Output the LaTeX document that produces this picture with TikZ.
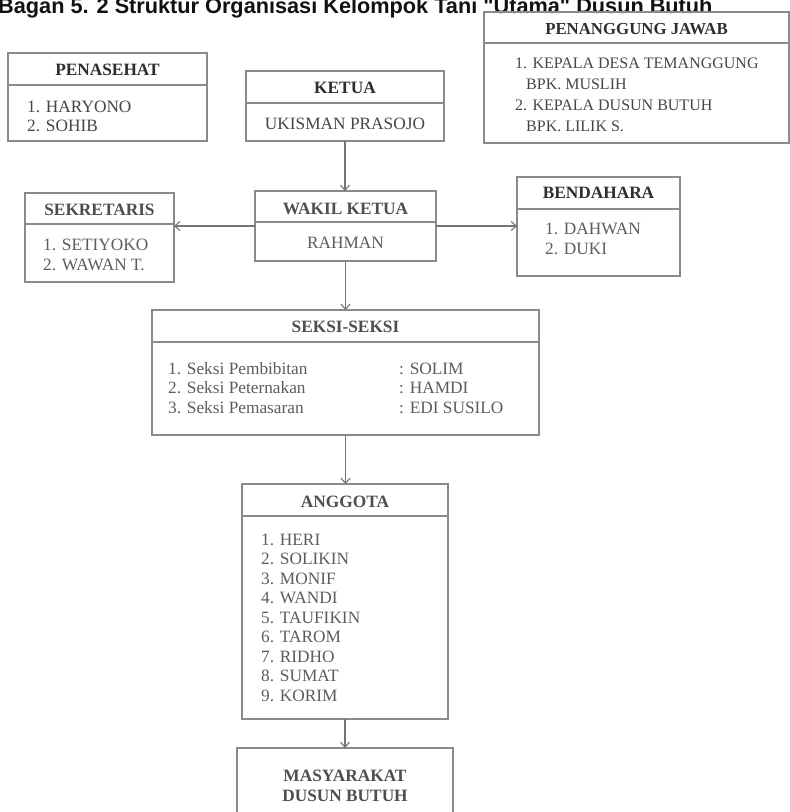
\documentclass[tikz,border=0pt]{standalone}
\usepackage{fontspec}
\setmainfont{Liberation Serif}
\newfontfamily\titlefont{Liberation Sans}
\usetikzlibrary{arrows.meta}
\definecolor{boxline}{HTML}{8A8A8A}
\definecolor{headA}{HTML}{2E2E2E}
\definecolor{headB}{HTML}{4E4E4E}
\definecolor{itemA}{HTML}{454545}
\definecolor{itemB}{HTML}{5C5C5C}
\definecolor{titlec}{HTML}{111111}
\begin{document}
\begin{tikzpicture}[x=1pt,y=-1pt,
  box/.style={draw=boxline, line width=1.1pt, inner sep=0pt, outer sep=0pt, anchor=north west},
  divline/.style={draw=boxline, line width=1.1pt},
  conn/.style={draw=boxline!85!black, line width=1.1pt, -{Straight Barb[length=5pt,width=9pt]}},
  headtxt/.style={inner sep=0pt, anchor=center, font=\bfseries\fontsize{17.3}{19.5}\selectfont, text=#1},
  headtxt/.default=headB,
  itemtxt/.style={inner sep=0pt, anchor=base west, font=\fontsize{17.3}{19.5}\selectfont, text=#1},
  itemtxt/.default=itemB,
  smallitem/.style={inner sep=0pt, anchor=base west, font=\fontsize{16}{18}\selectfont, text=itemA}
]
\useasboundingbox (0,0) rectangle (790,812);

% title
\node[anchor=base west, inner sep=0pt, text=titlec, font=\titlefont\bfseries\fontsize{21.7}{24}\selectfont] (title) at (-2,13) {Bagan 5. 2 Struktur Organisasi Kelompok Tani "Utama" Dusun Butuh};

% PENASEHAT
\node[box, minimum width=199pt, minimum height=88pt] (pen) at (8,53) {};
\draw[divline] (pen.west |- 0,85) -- (pen.east |- 0,85);
\node[headtxt=headA] (penT) at (107.5,70) {PENASEHAT};
\node[itemtxt=itemA] (pen1) at (27,112) {1. HARYONO};
\node[itemtxt=itemA] (pen2) at (27,131) {2. SOHIB};

% KETUA
\node[box, minimum width=198pt, minimum height=70pt] (ket) at (246,71) {};
\draw[divline] (ket.west |- 0,103) -- (ket.east |- 0,103);
\node[headtxt=headA] (ketT) at (345,88) {KETUA};
\node[itemtxt=itemA, anchor=base] (ket1) at (345,129) {UKISMAN PRASOJO};

% PENANGGUNG JAWAB
\node[box, minimum width=305pt, minimum height=131pt] (pj) at (484,12) {};
\draw[divline] (pj.west |- 0,43) -- (pj.east |- 0,43);
\node[headtxt=headA, font=\bfseries\fontsize{16.8}{19}\selectfont] (pjT) at (636.5,29) {PENANGGUNG JAWAB};
\node[smallitem] (pj1) at (515,68) {1. KEPALA DESA TEMANGGUNG};
\node[smallitem] (pj2) at (526,89) {BPK. MUSLIH};
\node[smallitem] (pj3) at (515,110) {2. KEPALA DUSUN BUTUH};
\node[smallitem] (pj4) at (526,131) {BPK. LILIK S.};

% SEKRETARIS
\node[box, minimum width=149pt, minimum height=89pt] (sek) at (25,193) {};
\draw[divline] (sek.west |- 0,224) -- (sek.east |- 0,224);
\node[headtxt] (sekT) at (99.5,209.5) {SEKRETARIS};
\node[itemtxt] (sek1) at (43,250) {1. SETIYOKO};
\node[itemtxt] (sek2) at (43,270) {2. WAWAN T.};

% WAKIL KETUA
\node[box, minimum width=181pt, minimum height=70pt] (wak) at (255,191) {};
\draw[divline] (wak.west |- 0,222) -- (wak.east |- 0,222);
\node[headtxt] (wakT) at (345.5,208.5) {WAKIL KETUA};
\node[itemtxt, anchor=base] (wak1) at (345.5,248) {RAHMAN};

% BENDAHARA
\node[box, minimum width=163pt, minimum height=99pt] (ben) at (517,177) {};
\draw[divline] (ben.west |- 0,209) -- (ben.east |- 0,209);
\node[headtxt=headA] (benT) at (598.5,193) {BENDAHARA};
\node[itemtxt] (ben1) at (545,234) {1. DAHWAN};
\node[itemtxt] (ben2) at (545,254) {2. DUKI};

% SEKSI-SEKSI
\node[box, minimum width=387pt, minimum height=125pt] (sks) at (152,310) {};
\draw[divline] (sks.west |- 0,342) -- (sks.east |- 0,342);
\node[headtxt] (sksT) at (345.5,327) {SEKSI-SEKSI};
\node[itemtxt] (sks1) at (168,374) {1. Seksi Pembibitan};
\node[itemtxt] (sks2) at (168,393.5) {2. Seksi Peternakan};
\node[itemtxt] (sks3) at (168,413) {3. Seksi Pemasaran};
\node[itemtxt] (sks1b) at (399,374) {: SOLIM};
\node[itemtxt] (sks2b) at (399,393.5) {: HAMDI};
\node[itemtxt] (sks3b) at (399,413) {: EDI SUSILO};

% ANGGOTA
\node[box, minimum width=206pt, minimum height=235pt] (ang) at (242,484) {};
\draw[divline] (ang.west |- 0,516) -- (ang.east |- 0,516);
\node[headtxt] (angT) at (345,502) {ANGGOTA};
\node[itemtxt] (a1) at (261,545) {1. HERI};
\node[itemtxt] (a2) at (261,564.5) {2. SOLIKIN};
\node[itemtxt] (a3) at (261,584) {3. MONIF};
\node[itemtxt] (a4) at (261,603.5) {4. WANDI};
\node[itemtxt] (a5) at (261,623) {5. TAUFIKIN};
\node[itemtxt] (a6) at (261,642.5) {6. TAROM};
\node[itemtxt] (a7) at (261,662) {7. RIDHO};
\node[itemtxt] (a8) at (261,681.5) {8. SUMAT};
\node[itemtxt] (a9) at (261,701) {9. KORIM};

% MASYARAKAT
\node[box, minimum width=216pt, minimum height=90pt] (mas) at (237,748) {};
\node[headtxt, anchor=base] (mas1) at (345,781) {MASYARAKAT};
\node[headtxt, anchor=base] (mas2) at (345,801) {DUSUN BUTUH};

% connectors
\draw[conn] (ket.south) -- (ket.south |- wak.north);
\draw[conn] (wak.west |- 0,226) -- (sek.east |- 0,226);
\draw[conn] (wak.east |- 0,226) -- (ben.west |- 0,226);
\draw[conn] (wak.south) -- (wak.south |- sks.north);
\draw[conn] (sks.south) -- (sks.south |- ang.north);
\draw[conn] (ang.south) -- (ang.south |- mas.north);
\end{tikzpicture}
\end{document}
